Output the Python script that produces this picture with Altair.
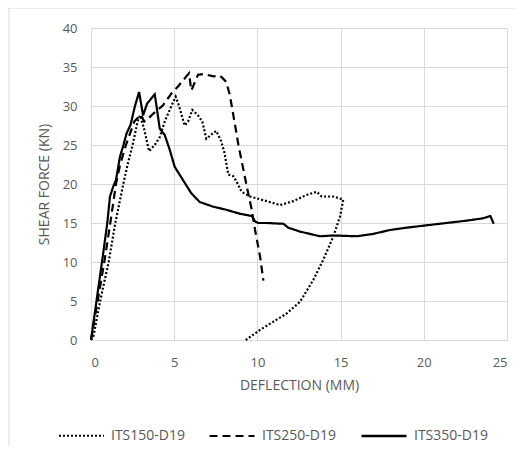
import altair as alt
import pandas as pd

# ITS150-D19 (dotted)
x150 = [0, 0.15, 0.55, 1.06, 1.46, 1.94, 2.2, 2.5, 2.8, 2.95, 3.2, 3.49, 3.83, 4.13, 4.43, 4.83, 5.09,
        5.29, 5.63, 5.83, 6.09, 6.43, 6.69, 6.93, 7.33, 7.53, 7.82, 8.02, 8.25, 8.55, 8.75, 9.05,
        9.55, 10.56, 11.36, 12.16, 12.96, 13.56, 13.86, 14.56, 15.16, 14.96, 14.55, 13.96, 13.36,
        12.56, 11.76, 10.96, 10.16, 9.3]
y150 = [0, 0.5, 5, 10, 15, 20, 22.5, 25, 28, 28.8, 27, 24.2, 25, 26, 28, 30, 31.2,
        30, 27.5, 28, 29.5, 28.8, 28, 25.8, 26.5, 26.8, 25.5, 24, 21.2, 21, 20.3, 19,
        18.4, 17.8, 17.3, 17.8, 18.6, 19, 18.4, 18.4, 18, 15.8, 13.2, 10.3, 7.7,
        4.9, 3.4, 2.35, 1.3, 0]

# ITS250-D19 (dashed)
x250 = [0, 0.4, 0.8, 1.16, 1.5, 1.75, 2.1, 2.6, 3.0, 3.2, 3.5, 3.73, 4.33, 4.83, 5.23, 5.73,
        5.89, 6.03, 6.43, 6.76, 7.36, 7.73, 7.9, 8.12, 8.32, 8.46, 8.86, 9.36, 9.66, 9.86, 10.16,
        10.36]
y250 = [0, 5, 10, 15, 20, 22.5, 25, 28, 28.9, 28, 28.5, 29, 30.1, 31.6, 32.5, 33.8,
        34.2, 32, 34, 34.1, 33.8, 33.9, 33.6, 33.1, 31.6, 30, 25, 19.7, 16.7, 14.1, 10.7,
        7.6]

# ITS350-D19 (solid)
x350 = [0, 0.33, 0.66, 0.98, 1.14, 1.34, 1.5, 1.74, 1.94, 2.14, 2.38, 2.63, 2.89, 3.13, 3.37,
        3.83, 3.97, 4.13, 4.43, 4.73, 5.03, 5.53, 6.03, 6.53, 7.33, 8.12, 8.92, 9.66, 9.86,
        10.06, 10.56, 11.56, 11.86, 12.56, 13.16, 13.76, 14.56, 15.96, 16.96, 17.96, 18.96,
        20.16, 21.36, 22.56, 23.56, 24.0, 24.2]
y350 = [0, 5, 10, 15, 18.4, 19.7, 20.5, 23.5, 24.9, 26.5, 27.6, 29.9, 31.8, 28.8, 30.3,
        31.5, 29.5, 27.1, 26.3, 24.4, 22.2, 20.5, 18.8, 17.7, 17.1, 16.7, 16.2, 15.9, 15.2,
        15.0, 15.0, 14.9, 14.4, 13.9, 13.6, 13.3, 13.4, 13.3, 13.6, 14.1, 14.4,
        14.7, 15.0, 15.3, 15.6, 15.9, 14.9]

series = ["ITS150-D19", "ITS250-D19", "ITS350-D19"]

rows = []
for name, xs, ys in zip(series, [x150, x250, x350], [y150, y250, y350]):
    for i, (a, b) in enumerate(zip(xs, ys)):
        rows.append({"series": name, "x": a, "y": b, "idx": i})
df = pd.DataFrame(rows)

FONT = "Open Sans"
GRAY = "#595959"

lines = alt.Chart(df).mark_line(color="black", strokeWidth=2.2).encode(
    x=alt.X("x:Q", scale=alt.Scale(domain=[0, 25], nice=False),
            axis=alt.Axis(values=[0, 5, 10, 15, 20, 25], title="DEFLECTION (MM)",
                          grid=True, domain=False, ticks=False, labelPadding=16,
                          titlePadding=9)),
    y=alt.Y("y:Q", scale=alt.Scale(domain=[0, 40], nice=False),
            axis=alt.Axis(values=[0, 5, 10, 15, 20, 25, 30, 35, 40], title="SHEAR FORCE (KN)",
                          grid=True, domain=False, ticks=False, labelPadding=14,
                          titlePadding=11)),
    strokeDash=alt.StrokeDash("series:N",
                              scale=alt.Scale(domain=series, range=[[2, 2], [8, 5], [1, 0]]),
                              legend=alt.Legend(title=None, orient="none", direction="horizontal",
                                                legendX=-33, legendY=384, symbolSize=2025,
                                                symbolStrokeWidth=2, symbolStrokeColor="black",
                                                labelOffset=6, columnPadding=20,
                                                labelFontSize=14, labelColor=GRAY, labelFont=FONT)),
    strokeWidth=alt.StrokeWidth("series:N",
                                scale=alt.Scale(domain=series, range=[1.8, 2.4, 2.5]),
                                legend=None),
    order="idx:Q",
)

border = alt.Chart(pd.DataFrame({"a": [0]})).mark_rect(
    fill=None, stroke="#d9d9d9", strokeWidth=1, clip=False
).encode(x=alt.value(-82), x2=alt.value(460), y=alt.value(-20), y2=alt.value(460))

chart = alt.layer(border, lines).properties(
    width=416, height=312,
    padding={"left": 83, "top": 20, "right": 8, "bottom": 106},
    autosize=alt.AutoSizeParams(type="none"),
).configure_axis(
    gridColor="#d9d9d9", labelColor=GRAY, titleColor=GRAY, labelFont=FONT, titleFont=FONT,
    labelFontSize=13, titleFontSize=14, titleFontWeight="normal",
).configure_view(stroke=None)

chart.save("out.html", embed_options={"renderer": "svg", "actions": False})
